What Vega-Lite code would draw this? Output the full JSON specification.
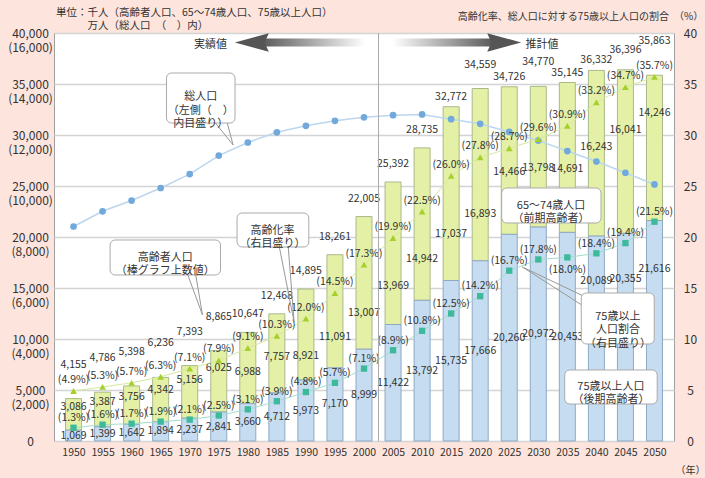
{
 "$schema": "https://vega.github.io/schema/vega-lite/v6.json",
 "width": 620, "height": 408,
 "autosize": {"type": "none"},
 "padding": {"left": 54, "top": 33, "right": 31, "bottom": 37},
 "background": "#fde4dc",
 "config": {
  "view": {"fill": "white", "stroke": "#a0a0a0", "strokeWidth": 1},
  "font": "Noto Sans CJK JP",
  "text": {"font": "Noto Sans CJK JP", "color": "#333"},
  "axis": {"labelFont": "Noto Sans CJK JP", "titleFont": "Noto Sans CJK JP", "labelColor": "#333", "titleColor": "#333", "titleFontWeight": "normal", "labelOverlap": false, "labelFlush": false},
  "axisX": {"labelOverlap": false, "labelFlush": false, "tickCount": 21, "labelFontSize": 10.5, "labelPadding": 6, "ticks": false, "domain": false, "grid": false, "format": "d", "titleX": 636, "titleY": 29, "titleAlign": "center", "titleBaseline": "middle", "titleFontSize": 10}
 },
 "title": {"text": ["単位：千人（高齢者人口、65〜74歳人口、75歳以上人口）", "\u200b　　　万人（総人口　（　）内）"], "anchor": "start", "frame": "group", "fontSize": 10.5, "fontWeight": "normal", "color": "#333", "lineHeight": 13, "offset": -20, "dx": 2, "font": "Noto Sans CJK JP"},
 "datasets": {"d": [
  {"year":1950,"pop":8411,"elderly":4155,"a6574":3086,"a75":1069,"aging":4.9,"r75":1.3},
  {"year":1955,"pop":9008,"elderly":4786,"a6574":3387,"a75":1399,"aging":5.3,"r75":1.6},
  {"year":1960,"pop":9430,"elderly":5398,"a6574":3756,"a75":1642,"aging":5.7,"r75":1.7},
  {"year":1965,"pop":9921,"elderly":6236,"a6574":4342,"a75":1894,"aging":6.3,"r75":1.9},
  {"year":1970,"pop":10467,"elderly":7393,"a6574":5156,"a75":2237,"aging":7.1,"r75":2.1},
  {"year":1975,"pop":11194,"elderly":8865,"a6574":6025,"a75":2841,"aging":7.9,"r75":2.5},
  {"year":1980,"pop":11706,"elderly":10647,"a6574":6988,"a75":3660,"aging":9.1,"r75":3.1},
  {"year":1985,"pop":12105,"elderly":12468,"a6574":7757,"a75":4712,"aging":10.3,"r75":3.9},
  {"year":1990,"pop":12361,"elderly":14895,"a6574":8921,"a75":5973,"aging":12.0,"r75":4.8},
  {"year":1995,"pop":12557,"elderly":18261,"a6574":11091,"a75":7170,"aging":14.5,"r75":5.7},
  {"year":2000,"pop":12693,"elderly":22005,"a6574":13007,"a75":8999,"aging":17.3,"r75":7.1},
  {"year":2005,"pop":12777,"elderly":25392,"a6574":13969,"a75":11422,"aging":19.9,"r75":8.9},
  {"year":2010,"pop":12806,"elderly":28735,"a6574":14942,"a75":13792,"aging":22.5,"r75":10.8},
  {"year":2015,"pop":12620,"elderly":32772,"a6574":17037,"a75":15735,"aging":26.0,"r75":12.5},
  {"year":2020,"pop":12440,"elderly":34559,"a6574":16893,"a75":17666,"aging":27.8,"r75":14.2},
  {"year":2025,"pop":12120,"elderly":34726,"a6574":14466,"a75":20260,"aging":28.7,"r75":16.7},
  {"year":2030,"pop":11780,"elderly":34770,"a6574":13798,"a75":20972,"aging":29.6,"r75":17.8},
  {"year":2035,"pop":11370,"elderly":35145,"a6574":14691,"a75":20453,"aging":30.9,"r75":18.0},
  {"year":2040,"pop":10960,"elderly":36332,"a6574":16243,"a75":20089,"aging":33.2,"r75":18.4},
  {"year":2045,"pop":10520,"elderly":36396,"a6574":16041,"a75":20355,"aging":34.7,"r75":19.4},
  {"year":2050,"pop":10060,"elderly":35863,"a6574":14246,"a75":21616,"aging":35.7,"r75":21.5}
 ]},
 "resolve": {"scale": {"y": "independent"}, "axis": {"y": "independent"}},
 "layer": [
  {
   "data": {"name": "d"},
   "transform": [
    {"calculate": "datum.a75 + datum.a6574 * (datum.year <= 1975 ? 0.72 : datum.year <= 1985 ? 0.45 : datum.year <= 2020 ? 0.27 : datum.year <= 2035 ? 0.42 : datum.year == 2040 ? 0.54 : datum.year == 2045 ? 0.63 : 0.74)", "as": "mid6574"},
    {"calculate": "datum.a75 * (datum.year >= 2040 ? 0.78 : 0.5)", "as": "mid75"},
    {"calculate": "datum.elderly + 98 * (datum.year <= 1975 || datum.year == 2050 ? 34 : (datum.year == 2020 || datum.year == 2030) ? 24 : datum.year == 2045 ? 20 : datum.year >= 2015 ? 10 : 18)", "as": "labY"}
   ],
   "layer": [
    {"mark": {"type": "bar", "size": 16, "fill": "#e4f0a6", "stroke": "#a9b98a", "strokeWidth": 1},
     "encoding": {
      "x": {"field": "year", "type": "quantitative", "scale": {"domain": [1947.5, 2052.5], "nice": false, "zero": false},
            "axis": {"values": [1950,1955,1960,1965,1970,1975,1980,1985,1990,1995,2000,2005,2010,2015,2020,2025,2030,2035,2040,2045,2050], "tickCount": 21, "format": "d", "title": "（年）", "labelOverlap": false, "labelFlush": false}},
      "y": {"field": "elderly", "type": "quantitative", "scale": {"domain": [0, 40000], "nice": false},
            "axis": {"orient": "left", "title": null, "values": [0,5000,10000,15000,20000,25000,30000,35000,40000], "labelExpr": "format(datum.value, ',')", "labelAlign": "center", "labelBaseline": "middle", "labelPadding": 24, "ticks": false, "domain": false, "grid": true, "gridColor": "#d4d4d4", "gridWidth": 1.5, "labelFontSize": 12, "labelOverlap": false, "labelFlush": false}},
      "y2": {"field": "a75"}
     }},
    {"mark": {"type": "bar", "size": 16, "fill": "#c6dcf0", "stroke": "#8fa9c4", "strokeWidth": 1},
     "encoding": {
      "x": {"field": "year", "type": "quantitative"},
      "y": {"field": "a75", "type": "quantitative"}
     }},
    {"mark": {"type": "text", "fontSize": 10.5, "baseline": "middle"},
     "encoding": {
      "x": {"field": "year", "type": "quantitative"},
      "y": {"field": "labY", "type": "quantitative"},
      "text": {"field": "elderly", "type": "quantitative", "format": ","}
     }},
    {"mark": {"type": "text", "fontSize": 10.5, "baseline": "middle"},
     "encoding": {
      "x": {"field": "year", "type": "quantitative"},
      "y": {"field": "mid6574", "type": "quantitative"},
      "text": {"field": "a6574", "type": "quantitative", "format": ","}
     }},
    {"mark": {"type": "text", "fontSize": 10.5, "baseline": "middle"},
     "encoding": {
      "x": {"field": "year", "type": "quantitative"},
      "y": {"field": "mid75", "type": "quantitative"},
      "text": {"field": "a75", "type": "quantitative", "format": ","}
     }}
   ]
  },
  {
   "data": {"name": "d"},
   "layer": [
    {"mark": {"type": "line", "stroke": "#bcd6ee", "strokeWidth": 1.5},
     "encoding": {
      "x": {"field": "year", "type": "quantitative"},
      "y": {"field": "pop", "type": "quantitative", "scale": {"domain": [0, 16000], "nice": false},
            "axis": {"orient": "left", "title": null, "values": [0,2000,4000,6000,8000,10000,12000,14000,16000], "labelExpr": "datum.value == 0 ? '' : '(' + format(datum.value, ',') + ')'", "labelAlign": "center", "labelBaseline": "middle", "labelOffset": 14, "labelPadding": 24, "ticks": false, "domain": false, "grid": false, "labelFontSize": 12, "labelOverlap": false, "labelFlush": false}}
     }},
    {"mark": {"type": "point", "filled": true, "color": "#72a9db", "size": 45, "opacity": 1, "shape": "circle"},
     "encoding": {
      "x": {"field": "year", "type": "quantitative"},
      "y": {"field": "pop", "type": "quantitative"}
     }}
   ]
  },
  {
   "data": {"name": "d"},
   "transform": [
    {"calculate": "'(' + format(datum.aging, '.1f') + '%)'", "as": "lblA"},
    {"calculate": "'(' + format(datum.r75, '.1f') + '%)'", "as": "lblR"},
    {"calculate": "datum.r75 + (datum.year == 2035 ? -1.25 : 0.95)", "as": "lblRy"}
   ],
   "layer": [
    {"mark": {"type": "line", "stroke": "#d5e99c", "strokeWidth": 1},
     "encoding": {
      "x": {"field": "year", "type": "quantitative"},
      "y": {"field": "aging", "type": "quantitative", "scale": {"domain": [0, 40], "nice": false},
            "axis": {"orient": "right", "values": [0,5,10,15,20,25,30,35,40], "title": "高齢化率、総人口に対する75歳以上人口の割合　（%）", "titleAngle": 0, "titleX": -94, "titleY": -17, "titleAlign": "center", "titleBaseline": "middle", "titleFontSize": 10, "labelFontSize": 12, "labelAlign": "center", "labelPadding": 16, "ticks": false, "domain": false, "grid": false, "labelOverlap": false, "labelFlush": false}}
     }},
    {"mark": {"type": "line", "stroke": "#a3dccd", "strokeWidth": 1},
     "encoding": {
      "x": {"field": "year", "type": "quantitative"},
      "y": {"field": "r75", "type": "quantitative"}
     }},
    {"mark": {"type": "point", "filled": true, "color": "#a6cf2c", "size": 45, "opacity": 1, "shape": "triangle-up"},
     "encoding": {
      "x": {"field": "year", "type": "quantitative"},
      "y": {"field": "aging", "type": "quantitative"}
     }},
    {"mark": {"type": "point", "filled": true, "color": "#3db99b", "size": 40, "opacity": 1, "shape": "square"},
     "encoding": {
      "x": {"field": "year", "type": "quantitative"},
      "y": {"field": "r75", "type": "quantitative"}
     }},
    {"mark": {"type": "text", "fontSize": 10.5, "baseline": "middle", "dy": -11},
     "encoding": {
      "x": {"field": "year", "type": "quantitative"},
      "y": {"field": "aging", "type": "quantitative"},
      "text": {"field": "lblA"}
     }},
    {"mark": {"type": "text", "fontSize": 10.5, "baseline": "middle"},
     "encoding": {
      "x": {"field": "year", "type": "quantitative"},
      "y": {"field": "lblRy", "type": "quantitative"},
      "text": {"field": "lblR"}
     }}
   ]
  },
  {
   "data": {"values": [{}]},
   "layer": [
    {"mark": {"type": "rule", "stroke": "#aaaaaa", "strokeWidth": 1},
     "encoding": {
      "x": {"datum": 2002.5, "type": "quantitative"},
      "y": {"datum": 0, "type": "quantitative", "scale": {"domain": [0, 40000], "nice": false}, "axis": null},
      "y2": {"datum": 40000}
     }},
    {"mark": {"type": "rect", "fill": {"gradient": "linear", "x1": 0, "y1": 0, "x2": 1, "y2": 0, "stops": [{"offset": 0, "color": "#555555"}, {"offset": 1, "color": "#ffffff"}]}},
     "encoding": {
      "x": {"datum": 1982.0, "type": "quantitative"}, "x2": {"datum": 2000.2},
      "y": {"datum": 39461, "type": "quantitative", "axis": null}, "y2": {"datum": 38677}
     }},
    {"mark": {"type": "rect", "fill": {"gradient": "linear", "x1": 0, "y1": 0, "x2": 1, "y2": 0, "stops": [{"offset": 0, "color": "#ffffff"}, {"offset": 1, "color": "#555555"}]}},
     "encoding": {
      "x": {"datum": 2004.9, "type": "quantitative"}, "x2": {"datum": 2022.7},
      "y": {"datum": 39461, "type": "quantitative", "axis": null}, "y2": {"datum": 38677}
     }},
    {"mark": {"type": "point", "filled": true, "color": "#555555", "opacity": 1, "size": 1156, "shape": "M -1 0 L 1 -0.55 L 0.75 0 L 1 0.55 Z"},
     "encoding": {
      "x": {"datum": 1980.69, "type": "quantitative"},
      "y": {"datum": 39069, "type": "quantitative", "axis": null}
     }},
    {"mark": {"type": "point", "filled": true, "color": "#555555", "opacity": 1, "size": 1156, "shape": "M 1 0 L -1 -0.55 L -0.75 0 L -1 0.55 Z"},
     "encoding": {
      "x": {"datum": 2024.13, "type": "quantitative"},
      "y": {"datum": 39069, "type": "quantitative", "axis": null}
     }},
    {"mark": {"type": "text", "fontSize": 11, "baseline": "middle", "text": "実績値"},
     "encoding": {
      "x": {"datum": 1973.58, "type": "quantitative"},
      "y": {"datum": 38824, "type": "quantitative", "axis": null}
     }},
    {"mark": {"type": "text", "fontSize": 11, "baseline": "middle", "text": "推計値"},
     "encoding": {
      "x": {"datum": 2030.65, "type": "quantitative"},
      "y": {"datum": 38824, "type": "quantitative", "axis": null}
     }},
    {"mark": {"type": "rule", "stroke": "#999999", "strokeWidth": 1},
     "encoding": {"x": {"datum": 1974.43, "type": "quantitative"}, "y": {"datum": 31176, "type": "quantitative", "axis": null}, "x2": {"datum": 1977.47}, "y2": {"datum": 29020}}},
    {"mark": {"type": "rule", "stroke": "#999999", "strokeWidth": 1},
     "encoding": {"x": {"datum": 1976.46, "type": "quantitative"}, "y": {"datum": 31176, "type": "quantitative", "axis": null}, "x2": {"datum": 1977.47}, "y2": {"datum": 29020}}},
    {"mark": {"type": "rule", "stroke": "#999999", "strokeWidth": 1},
     "encoding": {"x": {"datum": 1985.43, "type": "quantitative"}, "y": {"datum": 19020, "type": "quantitative", "axis": null}, "x2": {"datum": 1987.97}, "y2": {"datum": 11667}}},
    {"mark": {"type": "rule", "stroke": "#999999", "strokeWidth": 1},
     "encoding": {"x": {"datum": 1986.96, "type": "quantitative"}, "y": {"datum": 19020, "type": "quantitative", "axis": null}, "x2": {"datum": 1987.97}, "y2": {"datum": 11667}}},
    {"mark": {"type": "rule", "stroke": "#999999", "strokeWidth": 1},
     "encoding": {"x": {"datum": 1969.68, "type": "quantitative"}, "y": {"datum": 16275, "type": "quantitative", "axis": null}, "x2": {"datum": 1972.2}, "y2": {"datum": 12353}}},
    {"mark": {"type": "rule", "stroke": "#999999", "strokeWidth": 1},
     "encoding": {"x": {"datum": 1971.04, "type": "quantitative"}, "y": {"datum": 16275, "type": "quantitative", "axis": null}, "x2": {"datum": 1972.2}, "y2": {"datum": 12353}}},
    {"mark": {"type": "rule", "stroke": "#999999", "strokeWidth": 1},
     "encoding": {"x": {"datum": 2037.76, "type": "quantitative"}, "y": {"datum": 14216, "type": "quantitative", "axis": null}, "x2": {"datum": 2027.26}, "y2": {"datum": 17059}}},
    {"mark": {"type": "rule", "stroke": "#999999", "strokeWidth": 1},
     "encoding": {"x": {"datum": 2037.76, "type": "quantitative"}, "y": {"datum": 13235, "type": "quantitative", "axis": null}, "x2": {"datum": 2027.26}, "y2": {"datum": 17059}}},
    {"mark": {"type": "rect", "fill": "white", "stroke": "#aaaaaa", "strokeWidth": 1, "cornerRadius": 5},
     "encoding": {"x": {"datum": 1966.0, "type": "quantitative"}, "x2": {"datum": 1977.8}, "y": {"datum": 31176, "type": "quantitative", "axis": null}, "y2": {"datum": 36078}}},
    {"mark": {"type": "rect", "fill": "white", "stroke": "#aaaaaa", "strokeWidth": 1, "cornerRadius": 5},
     "encoding": {"x": {"datum": 1978.15, "type": "quantitative"}, "x2": {"datum": 1990.5}, "y": {"datum": 19020, "type": "quantitative", "axis": null}, "y2": {"datum": 22353}}},
    {"mark": {"type": "rect", "fill": "white", "stroke": "#aaaaaa", "strokeWidth": 1, "cornerRadius": 5},
     "encoding": {"x": {"datum": 1956.3, "type": "quantitative"}, "x2": {"datum": 1975.3}, "y": {"datum": 16275, "type": "quantitative", "axis": null}, "y2": {"datum": 19706}}},
    {"mark": {"type": "rect", "fill": "white", "stroke": "#aaaaaa", "strokeWidth": 1, "cornerRadius": 5},
     "encoding": {"x": {"datum": 2023.7, "type": "quantitative"}, "x2": {"datum": 2040.8}, "y": {"datum": 21373, "type": "quantitative", "axis": null}, "y2": {"datum": 24804}}},
    {"mark": {"type": "rect", "fill": "white", "stroke": "#aaaaaa", "strokeWidth": 1, "cornerRadius": 5},
     "encoding": {"x": {"datum": 2037.4, "type": "quantitative"}, "x2": {"datum": 2049.96}, "y": {"datum": 9510, "type": "quantitative", "axis": null}, "y2": {"datum": 14510}}},
    {"mark": {"type": "rect", "fill": "white", "stroke": "#aaaaaa", "strokeWidth": 1, "cornerRadius": 5},
     "encoding": {"x": {"datum": 2034.55, "type": "quantitative"}, "x2": {"datum": 2050.47}, "y": {"datum": 3627, "type": "quantitative", "axis": null}, "y2": {"datum": 6961}}},
    {"mark": {"type": "text", "fontSize": 11, "baseline": "middle", "lineHeight": 13.5, "text": ["総人口", "（左側（　）", "内目盛り）"]},
     "encoding": {"x": {"datum": 1971.9, "type": "quantitative"}, "y": {"datum": 33725, "type": "quantitative", "axis": null}}},
    {"mark": {"type": "text", "fontSize": 11, "baseline": "middle", "lineHeight": 13, "text": ["高齢化率", "（右目盛り）"]},
     "encoding": {"x": {"datum": 1984.25, "type": "quantitative"}, "y": {"datum": 20540, "type": "quantitative", "axis": null}}},
    {"mark": {"type": "text", "fontSize": 11, "baseline": "middle", "lineHeight": 13, "text": ["高齢者人口", "（棒グラフ上数値）"]},
     "encoding": {"x": {"datum": 1965.8, "type": "quantitative"}, "y": {"datum": 17941, "type": "quantitative", "axis": null}}},
    {"mark": {"type": "text", "fontSize": 11, "baseline": "middle", "lineHeight": 13, "text": ["65〜74歳人口", "（前期高齢者）"]},
     "encoding": {"x": {"datum": 2032.2, "type": "quantitative"}, "y": {"datum": 23088, "type": "quantitative", "axis": null}}},
    {"mark": {"type": "text", "fontSize": 11, "baseline": "middle", "lineHeight": 13.5, "text": ["75歳以上", "人口割合", "（右目盛り）"]},
     "encoding": {"x": {"datum": 2043.7, "type": "quantitative"}, "y": {"datum": 12157, "type": "quantitative", "axis": null}}},
    {"mark": {"type": "text", "fontSize": 11, "baseline": "middle", "lineHeight": 13, "text": ["75歳以上人口", "（後期高齢者）"]},
     "encoding": {"x": {"datum": 2042.5, "type": "quantitative"}, "y": {"datum": 5343, "type": "quantitative", "axis": null}}}
   ]
  }
 ]
}
